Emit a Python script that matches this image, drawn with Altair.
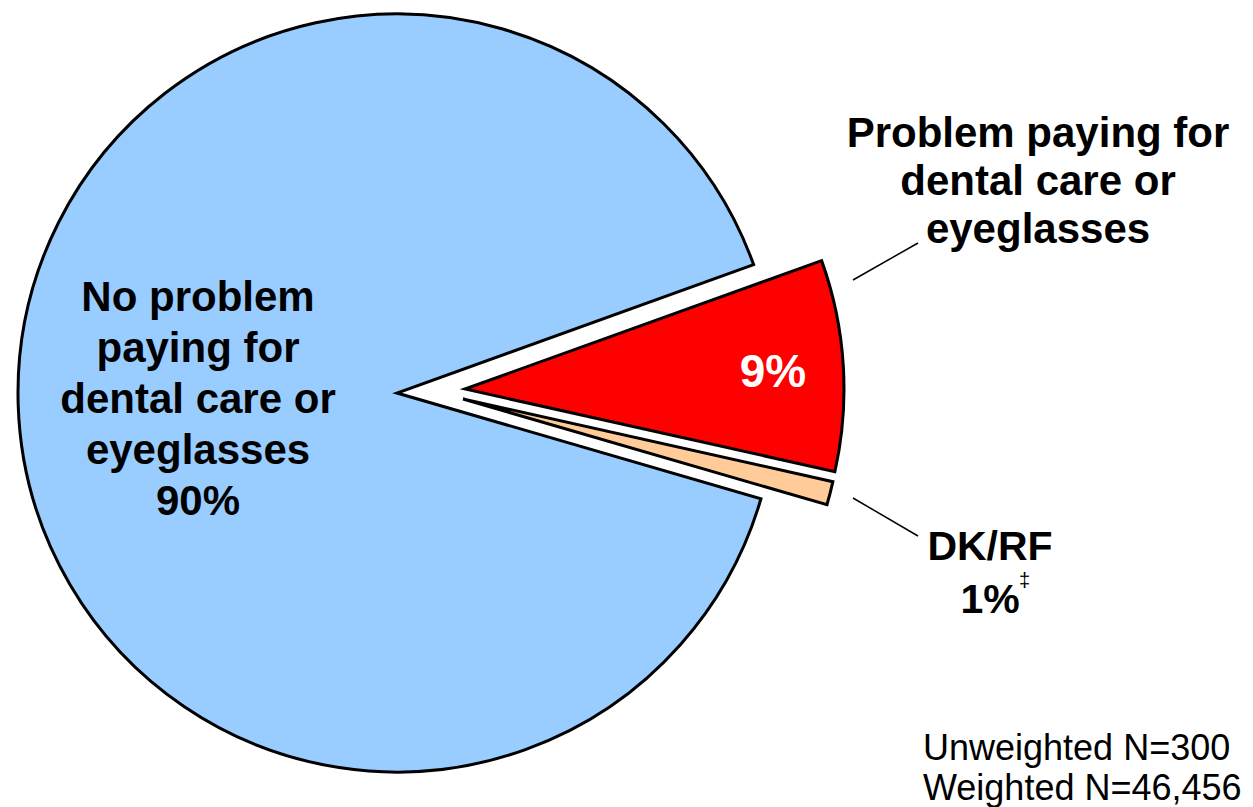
import math
import altair as alt
import pandas as pd

# ---- data ----
categories = [
    "Problem paying for dental care or eyeglasses",
    "DK/RF",
    "No problem paying for dental care or eyeglasses",
]
values = [9, 1, 90]
colors = ["#FF0000", "#FFCC99", "#99CCFF"]

label_no_problem = ["No problem", "paying for", "dental care or", "eyeglasses"]
label_problem = ["Problem paying for", "dental care or", "eyeglasses"]
label_dkrf = ["DK/RF"]
footnote_mark = "\u2021"
sample_lines = ["Unweighted N=300", "Weighted N=46,456"]

# ---- style / layout ----
W, H = 1237, 805
R = 379
START_DEG = 70.2
centers = {  # pie centre per slice (exploded slices shifted)
    categories[0]: (457, 381),
    categories[1]: (455, 391),
    categories[2]: (389, 385),
}
FONT = "Liberation Sans"

df = pd.DataFrame({"category": categories, "value": values, "order": [0, 1, 2]})

start = math.radians(START_DEG)
theta_scale = alt.Scale(domain=[0, sum(values)], range=[start, start + 2 * math.pi])
color_scale = alt.Scale(domain=categories, range=colors)

base = (
    alt.Chart(df)
    .transform_window(cum="sum(value)", sort=[alt.SortField("order")])
    .transform_calculate(t0="datum.cum - datum.value")
)

layers = []
for cat in categories:
    cx, cy = centers[cat]
    layers.append(
        base.transform_filter(alt.datum.category == cat)
        .mark_arc(radius=R, stroke="black", strokeWidth=3, strokeJoin="miter")
        .encode(
            theta=alt.Theta("t0:Q", scale=theta_scale),
            theta2="cum:Q",
            color=alt.Color("category:N", scale=color_scale, legend=None),
            x=alt.value(cx),
            y=alt.value(cy),
        )
    )


def text_layer(lines, x, y, size, bold=True, color="black", align="center", line_height=51):
    d = pd.DataFrame({"t": ["\n".join(lines)]})
    return (
        alt.Chart(d)
        .mark_text(
            font=FONT,
            fontSize=size,
            fontWeight="bold" if bold else "normal",
            color=color,
            align=align,
            baseline="alphabetic",
            lineBreak="\n",
            lineHeight=line_height,
        )
        .encode(text="t:N", x=alt.value(x), y=alt.value(y))
    )


def rule_layer(x1, y1, x2, y2):
    d = pd.DataFrame({"a": [0]})
    return (
        alt.Chart(d)
        .mark_rule(color="black", strokeWidth=1.5)
        .encode(x=alt.value(x1), y=alt.value(y1), x2=alt.value(x2), y2=alt.value(y2))
    )


pct = [f"{v}%" for v in values]

layers += [
    text_layer(label_no_problem + [pct[2]], 190, 303, 42, line_height=51),
    text_layer(label_problem, 1030, 139, 42, line_height=48),
    text_layer([pct[0]], 765, 379, 46, color="white"),
    text_layer(label_dkrf + [pct[1]], 982, 552, 41, line_height=53),
    text_layer([footnote_mark], 1011, 579, 20, bold=False, align="left"),
    text_layer(sample_lines, 915, 752, 36, bold=False, align="left", line_height=40),
    rule_layer(845, 272, 910, 235),
    rule_layer(845, 490, 910, 528),
]

chart = (
    alt.layer(*layers)
    .properties(
        width=W,
        height=H,
        padding=0,
        autosize=alt.AutoSizeParams(type="none"),
        view=alt.ViewBackground(strokeWidth=0, stroke="transparent"),
    )
    .configure_view(strokeWidth=0, stroke="transparent")
    .configure(background="white")
)

chart.save("out.html", embed_options={"renderer": "svg", "actions": False})
